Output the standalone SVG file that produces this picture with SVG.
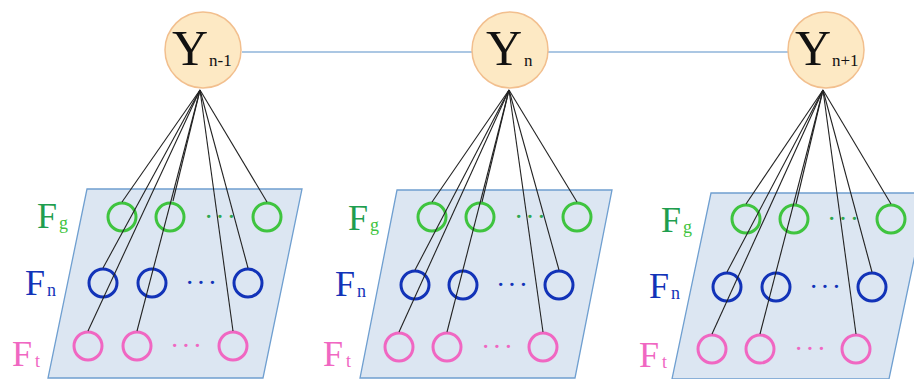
<svg xmlns="http://www.w3.org/2000/svg" width="914" height="379" viewBox="0 0 914 379">
<style>
.panel{fill:#dce6f2;stroke:#6f9fd0;stroke-width:1.3}
.ynode{fill:#fde9c4;stroke:#f2bf8e;stroke-width:1.5}
.yt{font-family:"Liberation Serif",serif;font-size:50px;fill:#111}
.ys{font-family:"Liberation Serif",serif;font-size:17px;fill:#111}
.g{fill:none;stroke:#3fc43f;stroke-width:3}
.b{fill:none;stroke:#1233b8;stroke-width:3}
.p{fill:none;stroke:#f067c2;stroke-width:3}
.lf{font-family:"Liberation Serif",serif;font-size:36px}
.ls{font-family:"Liberation Serif",serif;font-size:18px}
.dots{font-family:"Liberation Serif",serif;font-size:28px;letter-spacing:2px}
.conn line{stroke:#222;stroke-width:1.1}
</style>
<line x1="242" y1="52" x2="788" y2="52" stroke="#8fb4da" stroke-width="1.5"/>
<g id="panel1">
<polygon class="panel" points="87,189 302,189 263,378 48,378"/>
<circle class="g" cx="122" cy="217" r="14"/><circle class="g" cx="170" cy="217" r="14"/><circle class="g" cx="267" cy="217" r="14"/>
<circle class="b" cx="103" cy="283" r="14"/><circle class="b" cx="152" cy="283" r="14"/><circle class="b" cx="248" cy="283" r="14"/>
<circle class="p" cx="88" cy="346" r="14"/><circle class="p" cx="137" cy="346" r="14"/><circle class="p" cx="233" cy="346" r="14"/>
<text class="dots" x="204" y="226" fill="#2fa84f">···</text>
<text class="dots" x="185" y="292" fill="#1233b8">···</text>
<text class="dots" x="170" y="355" fill="#f067c2">···</text>
<text class="lf" x="37" y="228" fill="#1f9e4f">F</text><text class="ls" x="59" y="229" fill="#3fc43f">g</text>
<text class="lf" x="25" y="295" fill="#1233b8">F</text><text class="ls" x="47" y="296" fill="#1233b8">n</text>
<text class="lf" x="12" y="366" fill="#f067c2">F</text><text class="ls" x="35" y="367" fill="#f067c2">t</text>
</g>
<g id="panel2">
<polygon class="panel" points="397,190 612,190 575,378 360,378"/>
<circle class="g" cx="432" cy="217" r="14"/><circle class="g" cx="480" cy="217" r="14"/><circle class="g" cx="577" cy="217" r="14"/>
<circle class="b" cx="415" cy="285" r="14"/><circle class="b" cx="463" cy="285" r="14"/><circle class="b" cx="559" cy="285" r="14"/>
<circle class="p" cx="399" cy="347" r="14"/><circle class="p" cx="447" cy="347" r="14"/><circle class="p" cx="543" cy="347" r="14"/>
<text class="dots" x="514" y="226" fill="#2fa84f">···</text>
<text class="dots" x="496" y="294" fill="#1233b8">···</text>
<text class="dots" x="481" y="356" fill="#f067c2">···</text>
<text class="lf" x="348" y="230" fill="#1f9e4f">F</text><text class="ls" x="370" y="231" fill="#3fc43f">g</text>
<text class="lf" x="335" y="296" fill="#1233b8">F</text><text class="ls" x="357" y="297" fill="#1233b8">n</text>
<text class="lf" x="323" y="366" fill="#f067c2">F</text><text class="ls" x="346" y="367" fill="#f067c2">t</text>
</g>
<g id="panel3">
<polygon class="panel" points="711,193 928,193 889,379 672,379"/>
<circle class="g" cx="746" cy="219" r="14"/><circle class="g" cx="794" cy="219" r="14"/><circle class="g" cx="891" cy="219" r="14"/>
<circle class="b" cx="727" cy="287" r="14"/><circle class="b" cx="776" cy="287" r="14"/><circle class="b" cx="872" cy="287" r="14"/>
<circle class="p" cx="712" cy="349" r="14"/><circle class="p" cx="760" cy="349" r="14"/><circle class="p" cx="856" cy="349" r="14"/>
<text class="dots" x="827" y="228" fill="#2fa84f">···</text>
<text class="dots" x="809" y="296" fill="#1233b8">···</text>
<text class="dots" x="794" y="358" fill="#f067c2">···</text>
<text class="lf" x="661" y="232" fill="#1f9e4f">F</text><text class="ls" x="683" y="233" fill="#3fc43f">g</text>
<text class="lf" x="649" y="298" fill="#1233b8">F</text><text class="ls" x="671" y="299" fill="#1233b8">n</text>
<text class="lf" x="639" y="367" fill="#f067c2">F</text><text class="ls" x="662" y="368" fill="#f067c2">t</text>
</g>
<g class="conn" id="connectors">
<line x1="200" y1="90" x2="122" y2="202"/><line x1="200" y1="90" x2="173" y2="201"/><line x1="200" y1="90" x2="267" y2="202"/>
<line x1="200" y1="90" x2="103" y2="268"/><line x1="200" y1="90" x2="248" y2="268"/>
<line x1="200" y1="90" x2="88" y2="331"/><line x1="200" y1="90" x2="137" y2="331"/><line x1="200" y1="90" x2="233" y2="331"/>
<line x1="509" y1="90" x2="432" y2="202"/><line x1="509" y1="90" x2="482" y2="202"/><line x1="509" y1="90" x2="577" y2="202"/>
<line x1="509" y1="90" x2="415" y2="270"/><line x1="509" y1="90" x2="559" y2="270"/>
<line x1="509" y1="90" x2="399" y2="332"/><line x1="509" y1="90" x2="447" y2="332"/><line x1="509" y1="90" x2="543" y2="332"/>
<line x1="823" y1="90" x2="746" y2="204"/><line x1="823" y1="90" x2="796" y2="204"/><line x1="823" y1="90" x2="891" y2="204"/>
<line x1="823" y1="90" x2="727" y2="272"/><line x1="823" y1="90" x2="872" y2="272"/>
<line x1="823" y1="90" x2="712" y2="334"/><line x1="823" y1="90" x2="760" y2="334"/><line x1="823" y1="90" x2="856" y2="334"/>
</g>
<g id="y_nm1">
<circle class="ynode" cx="203" cy="50" r="38"/>
<text class="yt" x="172" y="65">Y</text><text class="ys" x="209" y="66">n-1</text>
</g>
<g id="y_n">
<circle class="ynode" cx="510" cy="50" r="38"/>
<text class="yt" x="486" y="65">Y</text><text class="ys" x="524" y="66">n</text>
</g>
<g id="y_np1">
<circle class="ynode" cx="826" cy="50" r="38"/>
<text class="yt" x="795" y="65">Y</text><text class="ys" x="832" y="66">n+1</text>
</g>
</svg>
